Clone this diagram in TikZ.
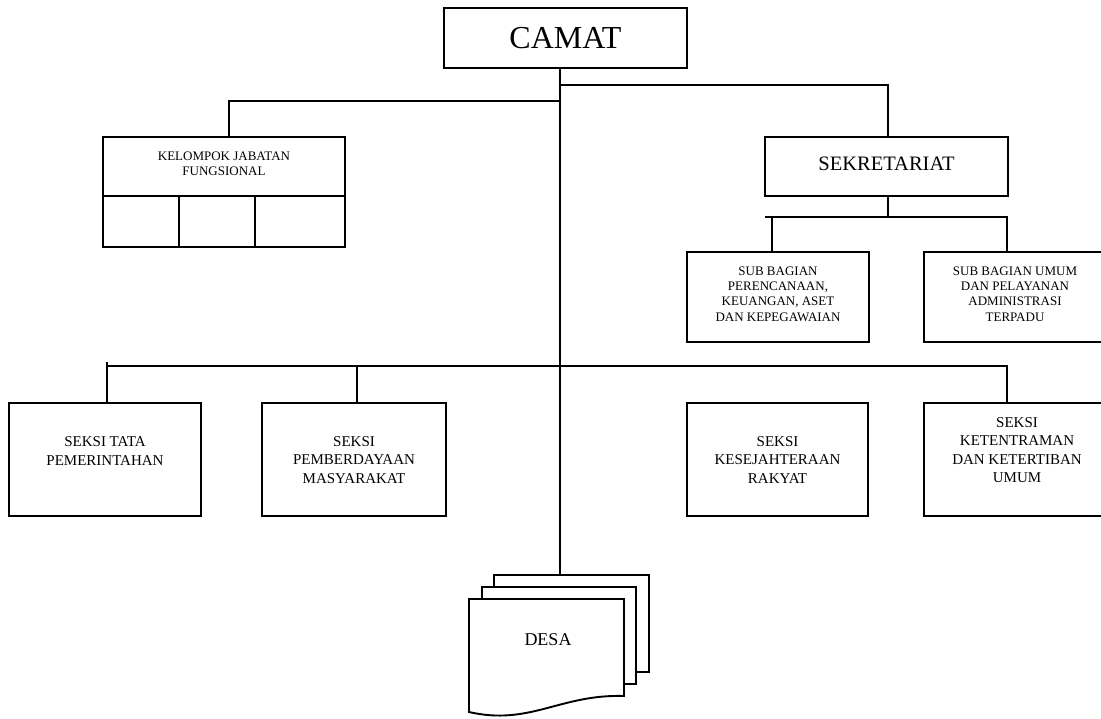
\documentclass[tikz,border=0pt]{standalone}
\usepackage{fontspec}
\setmainfont{Liberation Serif}
\begin{document}
\begin{tikzpicture}[x=1pt,y=-1pt,line width=1.9pt,
  box/.style={draw,line width=1.9pt,inner sep=0pt,outer sep=0pt,fill=white},
  lbl/.style={align=center,inner sep=0pt},
  bigt/.style={lbl,font=\fontsize{32}{36}\selectfont},
  midt/.style={lbl,font=\fontsize{20.5}{24}\selectfont},
  bott/.style={lbl,font=\fontsize{15}{18.5}\selectfont},
  subt/.style={lbl,font=\fontsize{13}{15.3}\selectfont},
  page/.style={draw,line width=1.9pt,fill=white}]
\useasboundingbox (0,0) rectangle (1101,718);

% boxes
\node[box,minimum width=243pt,minimum height=60pt] (camat) at (565.5,38) {};
\node[bigt] (tcamat) at (565.5,38) {CAMAT};

\node[box,minimum width=242pt,minimum height=59pt] (kel) at (224,166.5) {};
\node[subt] (tkel) at (224,164) {KELOMPOK JABATAN\\FUNGSIONAL};
\node[box,minimum width=76pt,minimum height=51pt] (kc1) at (141,221.5) {};
\node[box,minimum width=76pt,minimum height=51pt] (kc2) at (217,221.5) {};
\node[box,minimum width=90pt,minimum height=51pt] (kc3) at (300,221.5) {};

\node[box,minimum width=243pt,minimum height=59pt] (sekr) at (886.5,166.5) {};
\node[midt] (tsekr) at (886.5,164) {SEKRETARIAT};

\node[box,minimum width=182pt,minimum height=90pt] (sub1) at (778,297) {};
\node[subt] (tsub1) at (778,294) {SUB BAGIAN\\PERENCANAAN,\\KEUANGAN, ASET\\DAN KEPEGAWAIAN};
\node[box,minimum width=180pt,minimum height=90pt] (sub2) at (1014,297) {};
\node[subt] (tsub2) at (1015,294) {SUB BAGIAN UMUM\\DAN PELAYANAN\\ADMINISTRASI\\TERPADU};

\node[box,minimum width=192pt,minimum height=113pt] (s1) at (105,459.5) {};
\node[bott] (ts1) at (105,451) {SEKSI TATA\\PEMERINTAHAN};
\node[box,minimum width=184pt,minimum height=113pt] (s2) at (354,459.5) {};
\node[bott] (ts2) at (354,460) {SEKSI\\PEMBERDAYAAN\\MASYARAKAT};
\node[box,minimum width=181pt,minimum height=113pt] (s3) at (777.5,459.5) {};
\node[bott] (ts3) at (777.5,460) {SEKSI\\KESEJAHTERAAN\\RAKYAT};
\node[box,minimum width=180pt,minimum height=113pt] (s4) at (1014,459.5) {};
\node[bott] (ts4) at (1017,450) {SEKSI\\KETENTRAMAN\\DAN KETERTIBAN\\UMUM};

% DESA stacked pages
\draw[page] (494,575) rectangle (649,672);
\draw[page] (482,587) rectangle (636,684);
\draw[page] (469,599) -- (624,599) -- (624,696)
  .. controls (560,694) and (530,726) .. (469,712) -- cycle;
\node[lbl,font=\fontsize{18}{21}\selectfont] (desa) at (548,640) {DESA};
\coordinate (desatop) at (560,575);

% junction coordinates
\coordinate (tx) at (560,0);
\coordinate (jl) at (560,101);
\coordinate (jr) at (560,85);
\coordinate (kx) at (229,0);
\coordinate (sx) at (888,0);
\coordinate (sj) at (888,217);
\coordinate (sl) at (765,217);
\coordinate (sa) at (772,217);
\coordinate (sb) at (1007,217);
\coordinate (b1t) at (107,362);
\coordinate (b1) at (107,366);
\coordinate (b2) at (357,366);
\coordinate (b4) at (1007,366);

% connectors
\draw (camat.south -| tx) -- (desatop);
\draw (jl) -| (kel.north -| kx);
\draw (jr) -| (sekr.north -| sx);
\draw (sekr.south -| sx) -- (sj);
\draw (sl) -- (sb) -- (sub2.north -| sb);
\draw (sa) -- (sub1.north -| sa);
\draw (b1t) -- (s1.north -| b1);
\draw (b1) -- (b4) -- (s4.north -| b4);
\draw (b2) -- (s2.north -| b2);
\end{tikzpicture}
\end{document}
